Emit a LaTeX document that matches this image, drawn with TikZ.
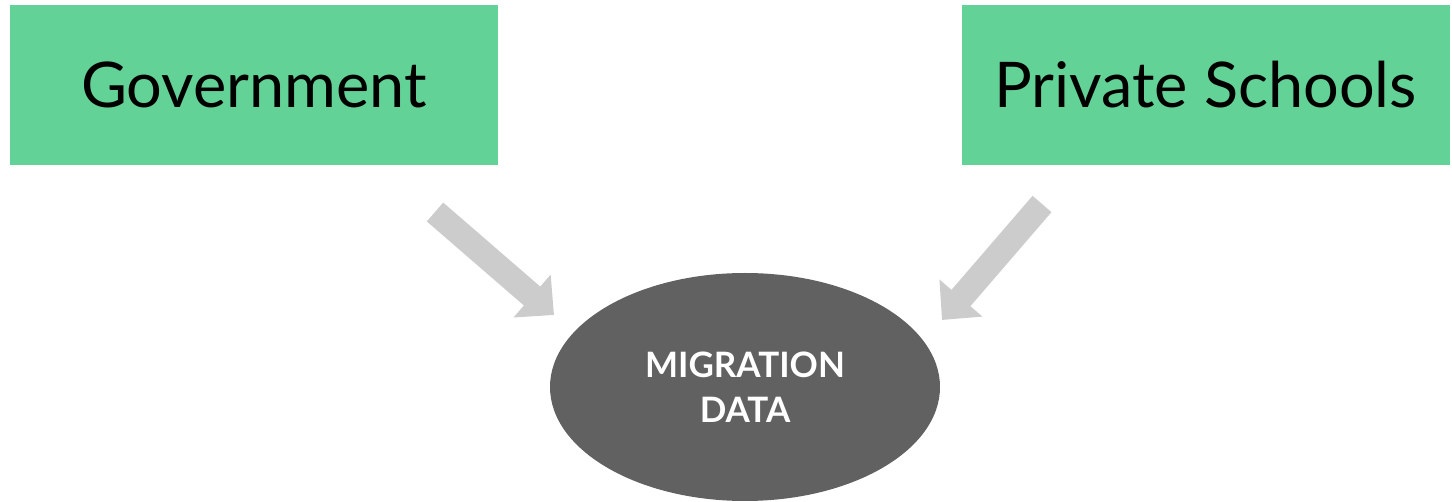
\documentclass[tikz,border=0pt]{standalone}
\usepackage{fontspec}
\setmainfont{Lato}
\usetikzlibrary{arrows.meta,shapes.geometric}
\definecolor{mint}{RGB}{99,210,151}
\definecolor{slate}{RGB}{97,97,97}
\definecolor{pale}{RGB}{204,204,204}
\tikzset{
  src/.style={fill=mint,minimum width=488pt,minimum height=160pt,inner sep=0pt,font=\fontsize{63}{66}\selectfont},
  hub/.style={ellipse,fill=slate,text=white,minimum width=390pt,minimum height=228pt,inner sep=0pt,align=center,font=\fontsize{35}{45}\selectfont\bfseries},
  arr/.style={pale,line width=25pt,-{Triangle[length=29pt,width=55pt]}},
}

\begin{document}
\begin{tikzpicture}[x=1pt,y=-1pt]
  \useasboundingbox (0,0) rectangle (1452,502);
  \node[src] (gov) at (254,85) {Government};
  \node[src] (priv) at (1205.5,85) {Private Schools};
  \node[hub] (data) at (745,387) {MIGRATION\\DATA};
  % arrows float between the boxes and the ellipse
  \coordinate (gtail) at (435,212);
  \coordinate (gtip) at (554,315);
  \coordinate (ptail) at (1042,204);
  \coordinate (ptip) at (942,320);
  \draw[arr] (gtail) -- (gtip);
  \draw[arr] (ptail) -- (ptip);
\end{tikzpicture}
\end{document}
